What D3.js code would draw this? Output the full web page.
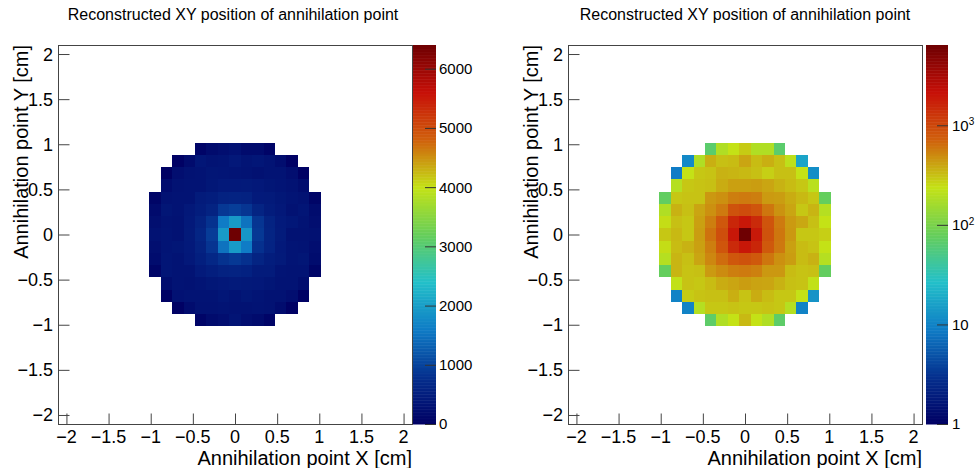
<!DOCTYPE html>
<html><head><meta charset="utf-8">
<script src="https://cdn.jsdelivr.net/npm/d3@7"></script>
<style>
body{margin:0;background:#fff}
svg{display:block}
text{font-family:"Liberation Sans",Arial,Helvetica,sans-serif;fill:#000}
</style>
</head><body>
<svg id="c" width="976" height="468"></svg>
<script>
// ---------------- data ----------------
const chartTitle = "Reconstructed XY position of annihilation point";
const xTitle = "Annihilation point X [cm]";
const yTitle = "Annihilation point Y [cm]";
const nBins = 31;
const axisMin = -2.1, axisMax = 2.1;
const firstBin = 8;            // histogram bin index of the first stored column / row
const axisTicks = [-2, -1.5, -1, -0.5, 0, 0.5, 1, 1.5, 2];
const axisTickLabels = ["\u22122", "\u22121.5", "\u22121", "\u22120.5", "0", "0.5", "1", "1.5", "2"];
const linZTicks = [0, 1000, 2000, 3000, 4000, 5000, 6000];
const linZLabels = ["0", "1000", "2000", "3000", "4000", "5000", "6000"];
const logZMajor = [1, 10, 100, 1000];
const logZMinor = [2,3,4,5,6,7,8,9,20,30,40,50,60,70,80,90,200,300,400,500,600,700,800,900,2000,3000,4000,5000,6000];
const zMax = 6400;
// bin contents, rows from top (y bin 22) to bottom (y bin 8), columns x bin 8..22; null = empty
const counts = [
  [null,null,null,null,  67, 190, 240, 290, 190, 190,  67,null,null,null,null],
  [null,null,  11, 190, 370, 320, 330, 400, 330, 370, 320, 220,  17,null,null],
  [null,   9, 240, 300, 310, 360, 350, 340, 320, 280, 320, 320, 240,  12,null],
  [null, 200, 300, 310, 320, 380, 420, 420, 430, 400, 360, 330, 300, 210,null],
  [  75, 300, 310, 310, 450, 480, 560, 580, 560, 440, 430, 380, 340, 300,  78],
  [ 190, 360, 320, 400, 480, 580, 880, 950, 850, 600, 470, 400, 300, 350, 200],
  [ 250, 320, 300, 420, 560, 820,1600,1950,1500, 850, 580, 440, 390, 320, 240],
  [ 300, 340, 300, 430, 620, 930,1950,6400,1900, 880, 600, 450, 300, 300, 280],
  [ 250, 330, 360, 420, 560, 840,1500,1950,1600, 800, 590, 420, 330, 310, 240],
  [ 200, 350, 320, 400, 520, 650, 820, 880, 800, 600, 480, 430, 330, 360, 200],
  [  78, 350, 310, 320, 440, 500, 560, 580, 550, 450, 450, 330, 310, 320,  76],
  [null, 230, 310, 300, 330, 380, 400, 430, 410, 400, 360, 320, 310, 230,null],
  [null,  10, 290, 310, 320, 320, 370, 310, 380, 330, 300, 300, 240,  13,null],
  [null,null,  10, 200, 300, 300, 310, 300, 300, 310, 300, 200,  10,null,null],
  [null,null,null,null,  70, 190, 240, 340, 240, 190,  70,null,null,null,null]
];

// ---------------- style ----------------
const paletteStops = [[0,0,99],[5,48,142],[15,124,198],[35,192,201],[102,206,90],[196,226,22],[208,97,13],[199,16,8],[110,0,2]];
const pal = d3.scaleLinear()
  .domain(paletteStops.map((_, i) => i / (paletteStops.length - 1)))
  .range(paletteStops.map(c => d3.rgb(c[0], c[1], c[2])))
  .interpolate(d3.interpolateRgb).clamp(true);

const frameTop = 45, frameBottom = 424, frameW = 354;
const panels = [
  {left: 58,  log: false, barX: 413, barW: 23, yTitleX: 28, titleX: 233},
  {left: 568, log: true,  barX: 926, barW: 22, yTitleX: 538, titleX: 745}
];
const svg = d3.select("#c");
const lineCol = "#444";

panels.forEach(p => {
  const g = svg.append("g");
  const x = d3.scaleLinear([axisMin, axisMax], [p.left, p.left + frameW]);
  const y = d3.scaleLinear([axisMin, axisMax], [frameBottom, frameTop]);
  const binW = (axisMax - axisMin) / nBins;
  const zNorm = p.log ? d3.scaleLog([1, zMax], [0, 1]).clamp(true) : d3.scaleLinear([0, zMax], [0, 1]).clamp(true);

  // cells
  const cells = [];
  counts.forEach((row, r) => row.forEach((v, c) => {
    if (v == null) return;
    const xb = firstBin + c;
    const yb = firstBin + (counts.length - 1 - r);
    cells.push({x0: axisMin + xb * binW, y0: axisMin + yb * binW, v});
  }));
  g.append("g").attr("shape-rendering", "crispEdges").selectAll("rect").data(cells).join("rect")
    .attr("x", d => Math.round(x(d.x0)))
    .attr("y", d => Math.round(y(d.y0 + binW)))
    .attr("width", d => Math.round(x(d.x0 + binW)) - Math.round(x(d.x0)))
    .attr("height", d => Math.round(y(d.y0)) - Math.round(y(d.y0 + binW)))
    .attr("fill", d => pal(zNorm(d.v)));

  // frame
  g.append("rect").attr("x", p.left + 0.5).attr("y", frameTop + 0.5)
    .attr("width", frameW).attr("height", frameBottom - frameTop)
    .attr("fill", "none").attr("stroke", lineCol).attr("stroke-width", 1);

  // ticks (inside frame)
  const minor = d3.range(-21, 22).map(i => i / 10).filter(v => Math.abs(v * 2 - Math.round(v * 2)) > 1e-6);
  const axB = g.append("g").attr("transform", `translate(0,${frameBottom + 0.5})`);
  axB.call(d3.axisBottom(x).tickValues(minor).tickSize(-5.5).tickFormat(""));
  axB.call(d3.axisBottom(x).tickValues(axisTicks).tickSize(-11).tickFormat(""));
  const axL = g.append("g").attr("transform", `translate(${p.left + 0.5},0)`);
  axL.call(d3.axisLeft(y).tickValues(minor).tickSize(-5.5).tickFormat(""));
  axL.call(d3.axisLeft(y).tickValues(axisTicks).tickSize(-11).tickFormat(""));
  g.selectAll(".domain").remove();
  g.selectAll(".tick line").attr("stroke", lineCol);

  // tick labels
  g.append("g").selectAll("text").data(axisTicks).join("text")
    .attr("x", d => x(d)).attr("y", 443)
    .attr("text-anchor", "middle").attr("font-size", 18)
    .text((d, i) => axisTickLabels[i]);
  g.append("g").selectAll("text").data(axisTicks).join("text")
    .attr("x", p.left - 5).attr("y", d => y(d)).attr("dy", "0.36em")
    .attr("text-anchor", "end").attr("font-size", 18)
    .text((d, i) => axisTickLabels[i]);

  // titles
  g.append("text").attr("x", p.left + frameW).attr("y", 465)
    .attr("text-anchor", "end").attr("font-size", 20).text(xTitle);
  g.append("text").attr("transform", `translate(${p.yTitleX},${frameTop}) rotate(-90)`)
    .attr("text-anchor", "end").attr("font-size", 20).text(yTitle);
  g.append("text").attr("x", p.titleX).attr("y", 20)
    .attr("text-anchor", "middle").attr("font-size", 16).text(chartTitle);

  // colour bar
  const nSlices = 255;
  const sliceH = (frameBottom - frameTop) / nSlices;
  g.append("g").selectAll("rect").data(d3.range(nSlices)).join("rect")
    .attr("x", p.barX).attr("width", p.barW)
    .attr("y", i => frameBottom - (i + 1) * sliceH)
    .attr("height", sliceH + 0.5)
    .attr("fill", i => pal((i + 0.5) / nSlices));
  const barR = p.barX + p.barW;
  if (!p.log) {
    const z = d3.scaleLinear([0, zMax], [frameBottom, frameTop]);
    const az = g.append("g").attr("transform", `translate(${barR},0)`);
    az.call(d3.axisLeft(z).tickValues(linZTicks).tickSize(-11).tickFormat(""));
    az.selectAll(".domain").remove();
    az.selectAll(".tick line").attr("stroke", "#333").attr("transform", "translate(-11,0)");
    g.append("g").selectAll("text").data(linZTicks).join("text")
      .attr("x", barR + 3).attr("y", d => z(d)).attr("dy", "0.36em")
      .attr("font-size", 15).text((d, i) => linZLabels[i]);
  } else {
    const z = d3.scaleLog([1, zMax], [frameBottom, frameTop]);
    const az = g.append("g").attr("transform", `translate(${barR},0)`);
    az.call(d3.axisRight(z).tickValues(logZMinor).tickSize(-5.5).tickFormat(""));
    az.call(d3.axisRight(z).tickValues(logZMajor).tickSize(-11).tickFormat(""));
    az.selectAll(".domain").remove();
    az.selectAll(".tick line").attr("stroke", "#333");
    const lab = g.append("g").selectAll("text").data(logZMajor).join("text")
      .attr("x", barR + 4).attr("y", d => z(d)).attr("dy", "0.36em")
      .attr("font-size", 15);
    lab.each(function(d) {
      const t = d3.select(this);
      const e = Math.round(Math.log10(d));
      if (e === 0) t.text("1");
      else if (e === 1) t.text("10");
      else {
        t.append("tspan").text("10");
        t.append("tspan").attr("dy", "-0.55em").attr("font-size", 10).text(String(e));
      }
    });
  }
});
</script>
</body></html>
